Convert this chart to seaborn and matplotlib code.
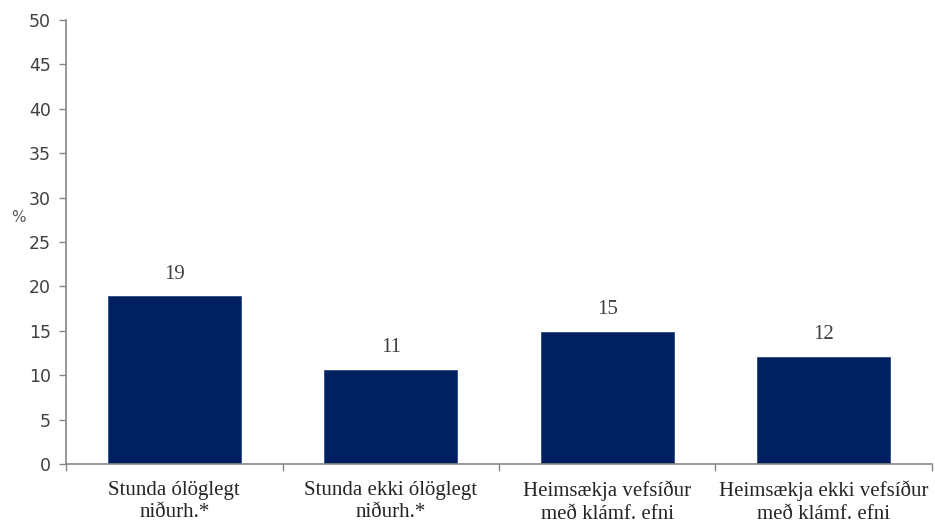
import matplotlib
matplotlib.use("Agg")
import matplotlib.pyplot as plt
import seaborn as sns
import pandas as pd
import numpy as np

categories = ["Stunda ólöglegt\nniðurh.*", "Stunda ekki ólöglegt\nniðurh.*",
              "Heimsækja vefsíður\nmeð klámf. efni", "Heimsækja ekki vefsíður\nmeð klámf. efni"]
values = [18.9, 10.6, 14.9, 12.1]
labels = ["19", "11", "15", "12"]
yticks = list(range(0, 51, 5))

sns.set_theme(style="white")
plt.rcParams['font.family'] = ['DejaVu Sans']

fig = plt.figure(figsize=(9.35, 5.27), dpi=100)
ax = fig.add_axes([66/935, 1-464/527, (932-66)/935, (464-20)/527])

df = pd.DataFrame({"cat": categories, "val": values})
sns.barplot(data=df, x="cat", y="val", color="#002060", saturation=1, width=0.615,
            edgecolor="#2a4a80", linewidth=0.6, ax=ax)

ax.set_ylim(0, 50)
ax.set_xlim(-0.5, 3.5)
ax.set_yticks(yticks)
ax.set_yticklabels([str(t) for t in yticks], fontsize=12.5, color="#404040")
ax.set_xlabel("")
ax.set_ylabel("")
ax.set_xticks(range(len(categories)))
ax.set_xticklabels(categories, fontsize=15, color="#262626", family="Liberation Serif",
                   linespacing=1.25)
ax.set_xticks(np.arange(-0.5, 4, 1), minor=True)
ax.tick_params(axis="x", which="major", length=0, pad=12)
ax.tick_params(axis="x", which="minor", length=5, width=1, color="#868686", direction="out", bottom=True)
ax.tick_params(axis="y", length=5, width=1, color="#868686", direction="out", left=True, pad=6)

for s in ["top", "right"]:
    ax.spines[s].set_visible(False)
for s in ["left", "bottom"]:
    ax.spines[s].set_color("#868686")
    ax.spines[s].set_linewidth(1.2)

for i, (v, lab) in enumerate(zip(values, labels)):
    ax.text(i, v + 1.4, lab, ha="center", va="bottom", fontsize=15,
            family="Liberation Serif", color="#404040")

fig.text(18/935, 1-218/527, "%", fontsize=11, color="#595959", ha="center", va="center")

fig.savefig("out.png", dpi=100)
